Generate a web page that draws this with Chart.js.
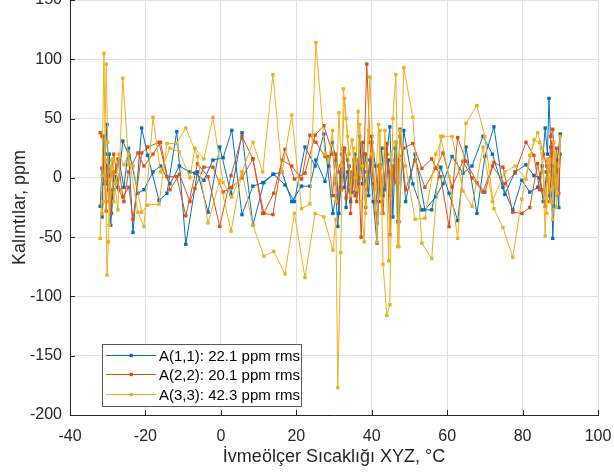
<!DOCTYPE html>
<html>
<head>
<meta charset="utf-8">
<script src="https://cdn.jsdelivr.net/npm/chart.js@4/dist/chart.umd.min.js"></script>
<style>
  html, body { margin: 0; padding: 0; background: #fff; overflow: hidden; width: 614px; height: 475px; }
  #wrap { position: absolute; left: 0; top: -10px; width: 614px; height: 485px; }
</style>
</head>
<body>
<div id="wrap"><canvas id="c" width="614" height="485"></canvas></div>
<script>
// ---- data ----
const seriesNames = ['A(1,1)', 'A(2,2)', 'A(3,3)'];
const rmsValues = [22.1, 20.1, 42.3];
const xTitle = 'İvmeölçer Sıcaklığı XYZ, °C';
const yTitle = 'Kalıntılar, ppm';

// accelerometer temperature (°C), in measurement order
const temps = [
  -32.0,-31.5,-31.0,-30.6,-30.2,-29.8,-29.2,-28.6,-28.1,
  -27.3,-26.0,-24.4,-23.3,-21.0,-19.4,-16.4,-14.3,-11.7,-9.3,-6.2,-3.4,-0.3,2.7,5.6,8.5,11.4,14.0,17.0,19.5,22.3,25.0,27.3,
  29.7,30.5,31.0,31.8,32.5,33.2,34.0,34.8,35.6,36.4,37.2,38.0,38.7,39.5,40.4,41.4,42.2,43.0,44.0,44.8,45.6,46.4,47.2,
  48.5,50.9,53.3,55.9,58.3,60.5,62.8,65.0,67.9,70.0,72.4,74.8,77.4,79.8,81.9,84.0,
  85.2,86.0,86.6,87.0,87.5,88.0,88.6,89.2,90.0,
  89.6,89.0,88.3,87.8,87.2,86.4,85.5,84.5,
  83.0,80.9,78.0,75.3,72.0,69.5,66.6,64.2,61.3,58.9,57.0,54.1,51.5,49.0,
  47.5,46.9,46.2,45.1,44.5,43.5,42.6,41.8,41.0,40.0,39.2,38.4,37.6,36.8,36.0,35.2,34.4,33.6,32.8,32.0,31.3,30.5,29.6,28.6,
  27.6,25.2,23.6,21.4,18.8,16.2,13.8,11.1,8.5,5.6,2.9,0.6,-2.1,-4.5,-6.9,-8.2,-11.0,-13.5,-16.0,-18.0,-20.4,-22.0,-24.5,-25.7,-27.0,
  -28.4,-29.0,-29.6,-30.0,-30.4,-31.0,-31.5
];

// residuals, ppm
const resA11 = [
  -24,8,-5,20,45,2,-40,-10,1,
  -8,31,19,-46,42,19,-19,-13,39,-56,5,-29,26,-14,38,-40,-4,3,-6,-20,26,10,37,
  -30,-15,-41,-8,24,-25,10,-12,20,-5,29,5,-10,15,-20,-55,11,-15,20,43,-33,30,-37,
  40,-5,-27,-27,9,-13,-36,26,-30,18,43,-8,-27,-2,-12,-8,
  10,42,20,67,26,-51,-5,15,37,
  -25,5,-24,10,-15,5,-20,0,
  2,11,5,-14,20,35,10,4,18,-5,-16,-27,20,-20,
  41,-37,25,-33,15,-10,25,-20,10,30,-15,20,-5,35,-12,15,-20,5,-8,20,-30,15,30,10,
  -3,15,-7,-7,-20,5,3,-4,-7,-31,40,17,15,-2,4,5,10,-5,10,5,-10,-13,25,-8,15,
  1,-30,20,-5,10,35,-33
];
const resA22 = [
  38,35,11,-3,8,-10,-30,2,5,
  16,-16,-8,-35,21,26,30,1,1,-32,12,1,-41,2,35,16,-30,-13,24,-1,4,36,44,
  20,-5,-21,10,25,-17,-10,5,-15,15,-50,20,96,30,-5,-38,8,-30,29,-48,10,-4,15,
  25,29,8,16,1,-41,34,14,-4,-12,13,9,-29,-30,-25,12,
  -10,-24,15,5,35,41,9,-15,20,
  -13,25,-5,30,-20,10,20,-10,
  19,30,4,-5,10,-12,0,14,-8,21,8,-8,15,-10,
  35,-4,15,-15,5,25,-20,10,-30,35,5,-25,30,0,-20,10,-30,15,25,-10,5,20,-15,18,
  18,30,36,-1,10,15,-31,-30,16,0,-8,-12,9,9,-9,-20,3,-10,30,20,10,21,5,-20,-10,
  20,5,-20,1,-28,15,8
];
const resA33 = [
  -51,2,105,15,-82,-54,10,16,-5,
  -27,84,11,10,-29,-23,-22,29,29,42,18,-38,-2,-45,5,-40,-66,-62,-81,-30,-84,-30,-33,
  -61,-35,-177,-63,75,50,20,32,0,56,-20,-54,10,85,20,-54,40,-73,-116,-107,50,87,-58,
  93,51,-55,-68,35,1,-51,46,61,35,-26,-42,-67,-18,19,38,
  25,-49,16,0,-20,-35,20,-13,35,
  10,-25,30,-10,15,-30,5,30,
  32,-1,10,5,-20,26,-24,-11,35,35,20,-34,-35,10,
  40,-58,30,20,-70,40,-30,45,-10,20,40,-30,10,45,-10,25,-15,35,67,10,55,-20,40,15,
  20,114,-22,-26,53,5,87,5,30,5,-16,-4,51,16,25,0,22,25,5,51,-41,-29,20,11,20,
  -20,15,-40,30,96,-20,-30
];

const xTicks = [-40, -20, 0, 20, 40, 60, 80, 100];
const yTicks = [-200, -150, -100, -50, 0, 50, 100, 150];

// ---- styling ----
const colors = ['#0072BD', '#D95319', '#EDB120'];
const FONT = "'Liberation Sans', Arial, Helvetica, sans-serif";
const AXIS = '#262626';
const GRID = '#dfdfdf';

const allRes = [resA11, resA22, resA33];
const datasets = allRes.map((vals, i) => ({
  label: seriesNames[i] + ': ' + rmsValues[i].toFixed(1) + ' ppm rms',
  data: temps.map((t, k) => ({ x: t, y: vals[k] })),
  showLine: true,
  borderColor: colors[i],
  backgroundColor: colors[i],
  borderWidth: 1,
  pointStyle: 'rect',
  pointRadius: 2.4,
  pointBorderWidth: 0,
  pointBackgroundColor: colors[i],
  pointHoverRadius: 2.4,
  order: 3 - i,
  tension: 0
}));

const insideTicks = {
  id: 'insideTicks',
  afterDatasetsDraw(chart) {
    const { ctx, chartArea: a, scales: { x, y } } = chart;
    ctx.save();
    ctx.strokeStyle = AXIS;
    ctx.lineWidth = 1;
    ctx.beginPath();
    x.ticks.forEach(t => {
      const px = Math.round(x.getPixelForValue(t.value)) + 0.5;
      ctx.moveTo(px, a.bottom); ctx.lineTo(px, a.bottom - 5);
    });
    y.ticks.forEach(t => {
      const py = Math.round(y.getPixelForValue(t.value)) + 0.5;
      ctx.moveTo(a.left, py); ctx.lineTo(a.left + 5, py);
    });
    ctx.stroke();
    ctx.restore();
  }
};

const boxLegend = {
  id: 'boxLegend',
  afterDraw(chart) {
    const { ctx, chartArea: a } = chart;
    const left = a.left + 32, top = a.bottom - 71, w = 199, h = 62;
    ctx.save();
    ctx.fillStyle = '#ffffff';
    ctx.fillRect(left, top, w, h);
    ctx.strokeStyle = '#5a5a5a';
    ctx.lineWidth = 1;
    ctx.strokeRect(left + 0.5, top + 0.5, w, h);
    ctx.font = '15px ' + FONT;
    ctx.textBaseline = 'middle';
    ctx.textAlign = 'left';
    chart.data.datasets.forEach((ds, i) => {
      const cy = Math.round(top + 11 + i * 19.3) + 0.5;
      ctx.strokeStyle = ds.borderColor;
      ctx.lineWidth = 1;
      ctx.beginPath();
      ctx.moveTo(left + 4, cy); ctx.lineTo(left + 54, cy);
      ctx.stroke();
      ctx.fillStyle = ds.borderColor;
      ctx.fillRect(left + 27.5, cy - 1.7, 3.4, 3.4);
      ctx.fillStyle = '#000000';
      ctx.fillText(ds.label, left + 57, cy + 1);
    });
    ctx.restore();
  }
};

new Chart(document.getElementById('c'), {
  type: 'scatter',
  data: { datasets },
  options: {
    responsive: false,
    devicePixelRatio: 1,
    animation: false,
    events: [],
    layout: { padding: { top: 10, right: 16, left: 0, bottom: 0 } },
    plugins: { legend: { display: false }, tooltip: { enabled: false } },
    scales: {
      x: {
        type: 'linear',
        min: -40, max: 100,
        afterBuildTicks: s => { s.ticks = xTicks.map(v => ({ value: v })); },
        afterFit: s => { s.height = 60; s.paddingLeft = 0; s.paddingRight = 0; s.paddingTop = 0; s.paddingBottom = 0; },
        grid: { color: GRID, lineWidth: 1, drawTicks: false },
        border: { display: true, color: AXIS, width: 1 },
        ticks: { color: AXIS, font: { family: FONT, size: 16 }, padding: 12, maxRotation: 0 },
        title: { display: true, text: xTitle, color: AXIS, font: { family: FONT, size: 18 }, padding: { top: 0, bottom: 7 } }
      },
      y: {
        type: 'linear',
        min: -200, max: 150,
        afterBuildTicks: s => { s.ticks = yTicks.map(v => ({ value: v })); },
        afterFit: s => { s.width = 70; s.paddingLeft = 0; s.paddingRight = 0; s.paddingTop = 0; s.paddingBottom = 0; },
        grid: { color: GRID, lineWidth: 1, drawTicks: false },
        border: { display: true, color: AXIS, width: 1 },
        ticks: { color: AXIS, font: { family: FONT, size: 16 }, padding: 8 },
        title: { display: true, text: yTitle, color: AXIS, font: { family: FONT, size: 18 }, padding: { top: 9, bottom: 0 } }
      }
    }
  },
  plugins: [insideTicks, boxLegend]
});
</script>
</body>
</html>
